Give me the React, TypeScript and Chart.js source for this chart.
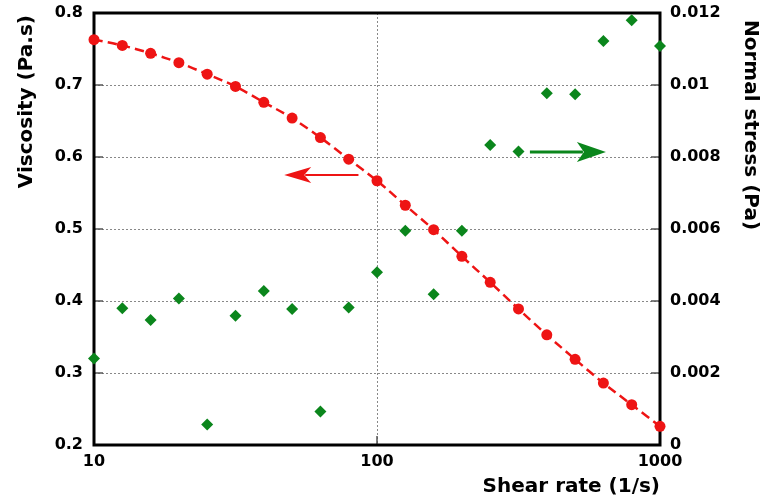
import { useEffect, useRef } from "react";
import { Chart, registerables } from "chart.js";

Chart.register(...registerables);

// ---- data ----
const shearRate = [10, 12.59, 15.85, 19.95, 25.12, 31.62, 39.81, 50.12, 63.1, 79.43, 100, 125.9, 158.5, 199.5, 251.2, 316.2, 398.1, 501.2, 631, 794.3, 1000];
const viscosity = [0.763, 0.755, 0.744, 0.731, 0.715, 0.698, 0.676, 0.654, 0.627, 0.597, 0.567, 0.533, 0.499, 0.462, 0.426, 0.389, 0.353, 0.319, 0.286, 0.256, 0.226];
const normalStress = [0.0024, 0.0038, 0.00347, 0.00407, 0.00057, 0.00359, 0.00428, 0.00378, 0.00093, 0.00382, 0.0048, 0.00595, 0.00419, 0.00595, 0.00833, 0.00815, 0.00977, 0.00974, 0.01122, 0.0118, 0.01108];
const xTicks = [10, 100, 1000];
const leftTicks = [0.2, 0.3, 0.4, 0.5, 0.6, 0.7, 0.8];
const rightTicks = [0, 0.002, 0.004, 0.006, 0.008, 0.01, 0.012];

const xTitle = "Shear rate (1/s)";
const leftTitle = "Viscosity (Pa.s)";
const rightTitle = "Normal stress (Pa)";

// arrow annotations in data coordinates: [fromX, toX, y]
const viscArrow = [86, 47, 0.575];
const stressArrow = [347, 644, 0.00814];

const RED = "#ee1414";
const GREEN = "#0b861c";
const FONT = "DejaVu Sans";

function drawArrow(ctx: CanvasRenderingContext2D, x1: number, x2: number, y: number, color: string, shaft: number, headLen: number, headHalf: number) {
  const dir = Math.sign(x2 - x1);
  const base = x2 - dir * headLen;
  ctx.save();
  ctx.strokeStyle = color;
  ctx.fillStyle = color;
  ctx.lineWidth = shaft;
  ctx.beginPath();
  ctx.moveTo(x1, y);
  ctx.lineTo(base + dir * 4, y);
  ctx.stroke();
  ctx.beginPath();
  ctx.moveTo(x2, y);
  ctx.lineTo(base - dir * 2, y - headHalf);
  ctx.lineTo(base + dir * 5, y);
  ctx.lineTo(base - dir * 2, y + headHalf);
  ctx.closePath();
  ctx.fill();
  ctx.restore();
}

const framePlugin = {
  id: "frame",
  beforeDatasetsDraw(chart: any) {
    const { ctx, chartArea: a, scales } = chart;
    ctx.save();
    ctx.strokeStyle = "#555";
    ctx.lineWidth = 1.5;
    ctx.beginPath();
    for (const v of leftTicks) {
      const y = scales.y.getPixelForValue(v);
      ctx.moveTo(a.left, y);
      ctx.lineTo(a.left + 9, y);
    }
    for (const v of rightTicks) {
      const y = scales.y2.getPixelForValue(v);
      ctx.moveTo(a.right, y);
      ctx.lineTo(a.right - 9, y);
    }
    for (const v of xTicks) {
      const x = scales.x.getPixelForValue(v);
      ctx.moveTo(x, a.bottom);
      ctx.lineTo(x, a.bottom - 9);
    }
    ctx.stroke();
    ctx.strokeStyle = "#000";
    ctx.lineWidth = 3;
    ctx.strokeRect(a.left, a.top, a.right - a.left, a.bottom - a.top);
    ctx.restore();
  },
  afterDatasetsDraw(chart: any) {
    const { ctx, scales, chartArea: a, width } = chart;
    drawArrow(
      ctx,
      scales.x.getPixelForValue(viscArrow[0]),
      scales.x.getPixelForValue(viscArrow[1]),
      scales.y.getPixelForValue(viscArrow[2]),
      RED, 2, 25, 8
    );
    drawArrow(
      ctx,
      scales.x.getPixelForValue(stressArrow[0]),
      scales.x.getPixelForValue(stressArrow[1]),
      scales.y2.getPixelForValue(stressArrow[2]),
      GREEN, 3, 27, 10
    );
    // vertical axis titles
    ctx.save();
    ctx.fillStyle = "#000";
    ctx.font = `bold 20px "${FONT}"`;
    ctx.textBaseline = "middle";
    ctx.save();
    ctx.translate(27, a.top + 2);
    ctx.rotate(-Math.PI / 2);
    ctx.textAlign = "right";
    ctx.fillText(leftTitle, 0, 0);
    ctx.restore();
    ctx.save();
    ctx.translate(width - 13, a.top + 7);
    ctx.rotate(Math.PI / 2);
    ctx.textAlign = "left";
    ctx.fillText(rightTitle, 0, 0);
    ctx.restore();
    ctx.restore();
  },
};

const tickFont = { family: FONT, weight: "bold" as const, size: 16 };
const titleFont = { family: FONT, weight: "bold" as const, size: 20 };

export default function App() {
  const ref = useRef<HTMLCanvasElement | null>(null);
  useEffect(() => {
    document.body.style.margin = "0";
    const canvas = ref.current;
    if (!canvas) return;
    const chart = new Chart(canvas, {
      type: "scatter",
      data: {
        datasets: [
          {
            label: "Viscosity",
            data: shearRate.map((x, i) => ({ x, y: viscosity[i] })),
            yAxisID: "y",
            showLine: true,
            borderColor: RED,
            backgroundColor: RED,
            borderWidth: 2.5,
            borderDash: [9, 5],
            pointRadius: 5.5,
            pointHoverRadius: 5.5,
            pointStyle: "circle",
            pointBorderWidth: 0,
            tension: 0.3,
            clip: false,
          },
          {
            label: "Normal stress",
            data: shearRate.map((x, i) => ({ x, y: normalStress[i] })),
            yAxisID: "y2",
            showLine: false,
            borderColor: GREEN,
            backgroundColor: GREEN,
            pointRadius: 6,
            pointHoverRadius: 6,
            pointStyle: "rectRot",
            pointBorderWidth: 0,
            clip: false,
          },
        ],
      },
      options: {
        animation: false,
        responsive: false,
        events: [],
        layout: { padding: { top: 13, left: 0, right: 0, bottom: 0 } },
        plugins: { legend: { display: false }, tooltip: { enabled: false } },
        scales: {
          x: {
            type: "logarithmic",
            min: 10,
            max: 1000,
            afterBuildTicks: (s: any) => {
              s.ticks = xTicks.map((v) => ({ value: v }));
            },
            afterFit: (s: any) => {
              s.height = 58;
              s.paddingLeft = 0;
              s.paddingRight = 0;
            },
            ticks: {
              callback: (v: any) => String(v),
              font: tickFont,
              color: "#000",
              padding: 7,
              maxRotation: 0,
              autoSkip: false,
            },
            grid: { color: "#888", drawTicks: false, lineWidth: 1 },
            border: { display: false, dash: [2, 2] },
            title: {
              display: true,
              text: xTitle,
              align: "end",
              font: titleFont,
              color: "#000",
              padding: { top: 0, bottom: 4 },
            },
          },
          y: {
            position: "left",
            min: 0.2,
            max: 0.8,
            afterBuildTicks: (s: any) => {
              s.ticks = leftTicks.map((v) => ({ value: v }));
            },
            afterFit: (s: any) => {
              s.width = 94;
              s.paddingTop = 0;
              s.paddingBottom = 0;
            },
            ticks: {
              callback: (v: any) => Number(v).toFixed(1),
              font: tickFont,
              color: "#000",
              padding: 11,
            },
            grid: { color: "#888", drawTicks: false, lineWidth: 1 },
            border: { display: false, dash: [2, 2] },
            title: { display: false },
          },
          y2: {
            position: "right",
            min: 0,
            max: 0.012,
            afterBuildTicks: (s: any) => {
              s.ticks = rightTicks.map((v) => ({ value: v }));
            },
            afterFit: (s: any) => {
              s.width = 103;
              s.paddingTop = 0;
              s.paddingBottom = 0;
            },
            ticks: {
              callback: (v: any) => String(+Number(v).toFixed(4)),
              font: tickFont,
              color: "#000",
              padding: 10,
            },
            grid: { display: false, drawTicks: false },
            border: { display: false },
            title: { display: false },
          },
        },
      },
      plugins: [framePlugin],
    } as any);
    return () => chart.destroy();
  }, []);
  return (
    <div style={{ width: 763, height: 503, background: "#fff" }}>
      <canvas ref={ref} width={763} height={503} style={{ display: "block" }} />
    </div>
  );
}
